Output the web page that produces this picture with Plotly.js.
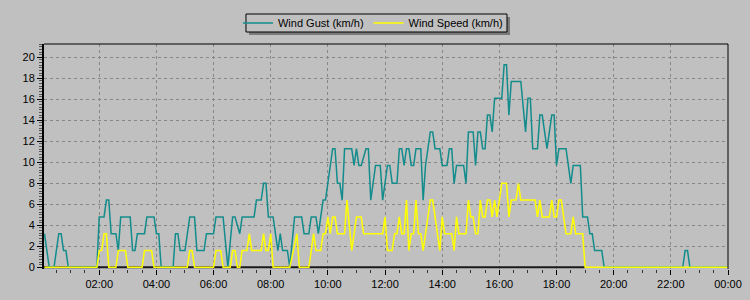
<!DOCTYPE html>
<html><head><meta charset="utf-8">
<script src="https://cdn.plot.ly/plotly-3.0.1.min.js"></script>
<style>html,body{margin:0;padding:0;background:#C0C0C0;} #chart{width:750px;height:300px;}</style>
</head><body><div id="chart"></div>
<script>
const gustTimes = ["00:05","00:15","00:25","00:35","00:40","00:45","00:50","00:55","01:55","02:00","02:10","02:15","02:20","02:25","02:35","02:40","02:45","03:05","03:10","03:15","03:20","03:35","03:40","03:55","04:00","04:05","04:10","04:35","04:40","04:45","04:50","05:00","05:10","05:20","05:25","05:40","05:45","06:00","06:05","06:20","06:30","06:40","06:45","06:55","07:00","07:25","07:30","07:40","07:45","07:50","07:55","08:05","08:15","08:20","08:25","08:35","08:40","08:50","09:05","09:10","09:20","09:25","09:35","09:40","09:45","09:50","09:55","10:00","10:05","10:10","10:15","10:20","10:25","10:30","10:35","10:50","10:55","11:00","11:05","11:10","11:20","11:25","11:30","11:40","11:50","11:55","12:05","12:10","12:15","12:25","12:30","12:35","12:40","12:45","12:50","12:55","13:00","13:05","13:15","13:20","13:25","13:35","13:40","13:45","13:55","14:00","14:10","14:15","14:20","14:25","14:30","14:45","14:50","14:55","15:05","15:10","15:15","15:20","15:25","15:30","15:35","15:40","15:45","15:50","16:05","16:10","16:15","16:20","16:25","16:45","16:55","17:00","17:05","17:10","17:20","17:25","17:30","17:40","17:50","17:55","18:00","18:05","18:20","18:30","18:35","18:50","18:55","19:05","19:10","19:15","19:20","19:35","19:40","22:25","22:30","22:35","22:40","24:00"];
const gustValues = [3.2,0,0,3.2,3.2,1.6,1.6,0,0,4.8,4.8,6.4,6.4,3.2,3.2,1.6,4.8,4.8,1.6,1.6,3.2,3.2,4.8,4.8,3.2,3.2,0,0,3.2,3.2,1.6,1.6,4.8,4.8,1.6,1.6,3.2,3.2,4.8,4.8,0,4.8,4.8,3.2,4.8,4.8,6.4,6.4,8.0,8.0,4.8,4.8,1.6,3.2,1.6,1.6,0,4.8,4.8,3.2,3.2,4.8,4.8,3.2,4.8,6.4,6.4,8.0,9.7,11.3,11.3,8.0,8.0,6.4,11.3,11.3,9.7,11.3,9.7,9.7,11.3,11.3,6.4,9.7,9.7,6.4,9.7,9.7,8.0,8.0,11.3,11.3,9.7,11.3,11.3,9.7,9.7,11.3,11.3,6.4,9.7,12.9,12.9,11.3,11.3,9.7,9.7,11.3,11.3,8.0,9.7,9.7,8.0,12.9,12.9,9.7,12.9,12.9,11.3,11.3,14.5,14.5,12.9,16.1,16.1,19.3,19.3,14.5,17.7,17.7,12.9,16.1,16.1,11.3,11.3,14.5,14.5,11.3,14.5,14.5,9.7,11.3,11.3,8.0,9.7,9.7,4.8,4.8,3.2,3.2,1.6,1.6,0,0,1.6,1.6,0,0];
const speedTimes = ["00:05","01:55","02:00","02:05","02:10","02:15","02:20","02:35","02:40","02:55","03:00","03:30","03:35","03:50","03:55","05:05","05:10","05:15","05:20","06:00","06:05","06:15","06:20","06:35","06:40","06:45","06:50","06:55","07:00","07:10","07:15","07:20","07:40","07:45","07:50","07:55","08:00","08:05","08:40","08:55","09:00","09:20","09:30","09:35","09:45","09:50","09:55","10:00","10:05","10:10","10:15","10:20","10:35","10:40","10:50","10:55","11:00","11:10","11:15","11:55","12:00","12:05","12:15","12:20","12:25","12:30","12:35","12:40","12:45","12:50","12:55","13:00","13:05","13:10","13:15","13:20","13:35","13:40","13:45","13:55","14:00","14:05","14:20","14:25","14:30","14:35","14:50","14:55","15:00","15:05","15:10","15:15","15:20","15:25","15:30","15:35","15:40","15:45","15:50","15:55","16:00","16:05","16:15","16:20","16:25","16:35","16:40","16:45","17:15","17:20","17:25","17:30","17:45","17:50","17:55","18:00","18:05","18:10","18:15","18:20","18:30","18:35","18:40","18:55","19:00","24:00"];
const speedValues = [0,0,1.6,1.6,3.2,3.2,0,0,1.6,1.6,0,0,1.6,1.6,0,0,1.6,1.6,0,0,1.6,1.6,0,0,1.6,1.6,0,0,1.6,1.6,3.2,1.6,1.6,3.2,1.6,1.6,3.2,0,0,3.2,0,0,3.2,1.6,1.6,3.2,3.2,4.8,3.2,4.8,4.8,3.2,3.2,6.4,1.6,3.2,4.8,4.8,3.2,3.2,4.8,1.6,1.6,3.2,3.2,4.8,3.2,3.2,6.4,1.6,3.2,3.2,6.4,3.2,3.2,1.6,6.4,6.4,4.8,1.6,4.8,3.2,3.2,1.6,4.8,3.2,3.2,6.4,4.8,4.8,3.2,3.2,6.4,4.8,4.8,6.4,6.4,4.8,6.4,4.8,6.4,8.0,8.0,4.8,6.4,6.4,8.0,6.4,6.4,4.8,6.4,4.8,4.8,6.4,4.8,4.8,6.4,6.4,4.8,3.2,3.2,4.8,3.2,3.2,0,0];
const baseTimes = ["00:04","19:00"];
const baseValues = [0,0];
const seriesNames = ["Wind Gust (km/h)","Wind Speed (km/h)"];

function toDate(t){ return t==="24:00" ? "2024-01-02 00:00:00" : "2024-01-01 "+t+":00"; }

const font = {family:"Liberation Sans, Arial, sans-serif", size:11, color:"#000"};
const traces = [
  {x: baseTimes.map(toDate), y: baseValues, type:"scatter", mode:"lines", line:{color:"#1a1a1a", width:2}, showlegend:false, hoverinfo:"skip"},
  {x: gustTimes.map(toDate), y: gustValues, type:"scatter", mode:"lines", name:seriesNames[0], line:{color:"#138C8C", width:1.5}},
  {x: speedTimes.map(toDate), y: speedValues, type:"scatter", mode:"lines", name:seriesNames[1], line:{color:"#FFFF00", width:1.5}}
];
const layout = {
  width:750, height:300,
  margin:{l:44, r:22, t:44, b:31, pad:0},
  paper_bgcolor:"#C0C0C0", plot_bgcolor:"#C0C0C0",
  font: font,
  showlegend:true,
  legend:{orientation:"h", xref:"container", yref:"container", x:0.4973, xanchor:"center", y:0.9233, yanchor:"middle",
    bgcolor:"rgba(0,0,0,0)", borderwidth:0, font:font, itemwidth:30},
  xaxis:{type:"date", range:["2024-01-01 00:04:00","2024-01-02 00:00:00"], tickformat:"%H:%M",
    tick0:"2024-01-01 00:00:00", dtick:7200000, ticks:"outside", ticklen:5, tickcolor:"#000", tickwidth:1,
    showgrid:true, gridcolor:"#878787", griddash:"dot", gridwidth:1, showline:false, zeroline:false,
    minor:{dtick:1800000, ticks:"outside", ticklen:3, tickcolor:"#333", showgrid:false},
    tickfont:font, fixedrange:true},
  yaxis:{range:[-0.16, 21.27], tick0:0, dtick:2, ticks:"outside", ticklen:5, tickcolor:"#000", tickwidth:1,
    showgrid:true, gridcolor:"#878787", griddash:"dot", gridwidth:1, showline:true, linecolor:"#000", linewidth:2,
    zeroline:false, minor:{dtick:0.25, ticks:"outside", ticklen:3, tickcolor:"#555", showgrid:false},
    tickfont:font, fixedrange:true},
  shapes:[
    {type:"line", xref:"paper", yref:"paper", x0:0, x1:1, y0:1, y1:1, line:{color:"#000", width:1}},
    {type:"line", xref:"paper", yref:"paper", x0:1, x1:1, y0:0, y1:1, line:{color:"#000", width:1}},
    {type:"rect", xref:"paper", yref:"paper", x0:0.2997, x1:0.6813, y0:1.040, y1:1.120, line:{width:0}, fillcolor:"#7a7a7a"},
    {type:"rect", xref:"paper", yref:"paper", x0:0.2953, x1:0.6769, y0:1.0533, y1:1.1333, line:{color:"#000", width:1}, fillcolor:"#C0C0C0"}
  ]
};
Plotly.newPlot("chart", traces, layout, {displayModeBar:false, staticPlot:true});
</script></body></html>
